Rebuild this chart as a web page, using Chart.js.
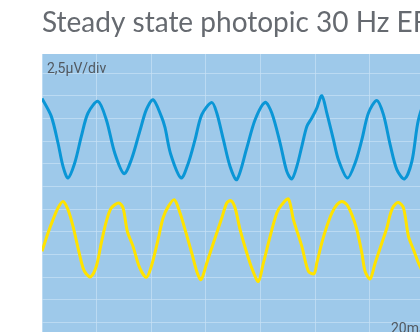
<!DOCTYPE html>
<html lang="en">
<head>
<meta charset="UTF-8">
<title>Steady state photopic 30 Hz ERG</title>
<script src="https://cdn.jsdelivr.net/npm/chart.js"></script>
<style>
  html, body { margin: 0; padding: 0; background: #fff; overflow: hidden; }
  #wrap { width: 479px; height: 345px; }
</style>
</head>
<body>
<div id="wrap"><canvas id="ergChart" width="479" height="345"></canvas></div>
<script>
// time in ms (20 ms/div), amplitude in µV (2,5 µV/div), traces offset vertically
var upperTime = [0, 3.41, 5.86, 7.69, 9.52, 11.98, 14.40, 16.85, 20.51, 23.55, 26.63, 30.04, 32.71, 35.79, 38.21, 40.66,
  43.70, 45.05, 47.07, 50.92, 53.59, 56.04, 58.50, 62.16, 63.99, 66.41, 68.86, 71.32, 74.98, 78.02, 81.68, 84.14,
  87.18, 89.63, 91.46, 93.30, 95.13, 96.96, 98.79, 100.62, 102.45, 104.29, 106.70, 108.53, 111.83, 114.65, 117.11,
  119.52, 122.60, 125.02, 127.47, 129.93, 132.71, 135.42, 137.84, 140.66, 143.6];
var upperAmp = [24.7, 22.72, 19.78, 17.20, 15.92, 17.58, 20.51, 23.09, 24.37, 22.35, 18.68, 16.40, 17.94, 21.06, 23.46, 24.56,
  22.72, 21.47, 18.60, 15.92, 17.58, 20.15, 22.91, 24.26, 23.09, 20.15, 17.20, 15.74, 19.23, 22.35, 24.26, 23.09,
  19.78, 16.65, 15.81, 17.20, 19.41, 21.61, 22.54, 23.64, 25.00, 23.09, 20.15, 17.94, 15.92, 17.58, 20.15,
  23.09, 24.48, 22.91, 19.60, 16.84, 15.81, 17.76, 22.35, 24.34, 22.9];

var lowerTime = [0, 2.20, 4.03, 5.86, 7.69, 9.52, 11.36, 13.19, 15.02, 16.23, 17.84, 19.89, 21.72, 23.55, 25.38, 28.10,
  29.67, 31.25, 33.33, 35.79, 38.21, 40.04, 42.49, 44.32, 46.26, 48.46, 50.55, 52.38, 54.83, 56.67, 58.24, 60.33,
  62.75, 65.82, 67.66, 69.23, 70.70, 72.53, 74.98, 77.03, 79.23, 81.06, 83.52, 85.97, 87.80, 90.22, 92.05, 95.13,
  97.55, 99.63, 100.62, 102.45, 104.29, 106.12, 107.95, 109.78, 111.61, 113.44, 115.27, 117.11, 118.31, 120.15,
  121.98, 124.43, 126.26, 127.47, 128.68, 130.51, 132.34, 134.18, 136.01, 137.84, 140.29];
var lowerAmp = [7.83, 9.86, 11.33, 12.62, 13.34, 12.43, 10.59, 8.20, 6.00, 5.34, 5.01, 6.18, 8.76, 11.14, 12.62, 13.17,
  12.62, 10.04, 8.38, 6.00, 4.96, 6.18, 9.12, 11.51, 12.79, 13.53, 12.06, 10.22, 7.65, 5.62, 4.71, 6.55,
  8.76, 11.51, 13.17, 13.42, 12.62, 10.22, 7.65, 5.81, 4.52, 6.55, 9.48, 12.06, 12.98, 13.61, 11.33, 8.38,
  5.62, 5.37, 6.55, 8.76, 10.59, 12.06, 12.98, 13.34, 12.98, 11.88, 10.22, 7.65, 5.62, 4.79,
  6.55, 8.76, 10.41, 11.88, 12.79, 13.23, 12.62, 9.48, 8.02, 6.55, 4.93];

var xDiv = 20;     // ms per division
var yDiv = 2.5;    // µV per division

function toPoints(xs, ys) {
  return xs.map(function(x, i) { return { x: x, y: ys[i] }; });
}

// blue plot background + the two scale labels
var ergDecor = {
  id: 'ergDecor',
  beforeDraw: function(chart) {
    var a = chart.chartArea, ctx = chart.ctx;
    ctx.save();
    ctx.fillStyle = '#9ec9ea';
    ctx.fillRect(a.left, a.top, a.right - a.left, a.bottom - a.top);
    ctx.restore();
  },
  afterDraw: function(chart) {
    var a = chart.chartArea, ctx = chart.ctx;
    ctx.save();
    ctx.fillStyle = '#52585f';
    ctx.font = '14px Roboto';
    ctx.textBaseline = 'alphabetic';
    ctx.fillText('2,5µV/div', a.left + 5, a.top + 18.7);
    ctx.fillText('20ms', 391, 333);
    ctx.restore();
  }
};

var gridStyle = { color: 'rgba(200,225,245,0.7)', lineWidth: 1, drawTicks: false };

new Chart(document.getElementById('ergChart').getContext('2d'), {
  type: 'line',
  data: {
    datasets: [
      {
        data: toPoints(upperTime, upperAmp),
        borderColor: '#0a96d6',
        borderWidth: 3,
        pointRadius: 0,
        tension: 0.3,
        fill: false
      },
      {
        data: toPoints(lowerTime, lowerAmp),
        borderColor: '#ffe300',
        borderWidth: 3,
        pointRadius: 0,
        tension: 0.3,
        fill: false
      }
    ]
  },
  options: {
    responsive: false,
    animation: false,
    layout: { padding: { left: 42, right: 0, top: 0, bottom: 0 } },
    scales: {
      x: {
        type: 'linear',
        min: 0,
        max: 8 * xDiv,
        ticks: { display: false, stepSize: xDiv },
        grid: gridStyle,
        border: { display: false }
      },
      y: {
        min: -yDiv,
        max: 29.6,
        ticks: { display: false, stepSize: yDiv },
        afterBuildTicks: function(scale) {
          scale.ticks = scale.ticks.filter(function(t) {
            return Math.abs(t.value / yDiv - Math.round(t.value / yDiv)) < 1e-6;
          });
        },
        grid: gridStyle,
        border: { display: false }
      }
    },
    plugins: {
      legend: { display: false },
      tooltip: { enabled: false },
      title: {
        display: true,
        text: 'Steady state photopic 30 Hz ERG',
        align: 'start',
        color: '#666a70',
        font: { family: 'Lato', size: 28, weight: 'normal' },
        padding: { top: 6, bottom: 14.4 }
      }
    }
  },
  plugins: [ergDecor]
});
</script>
</body>
</html>
